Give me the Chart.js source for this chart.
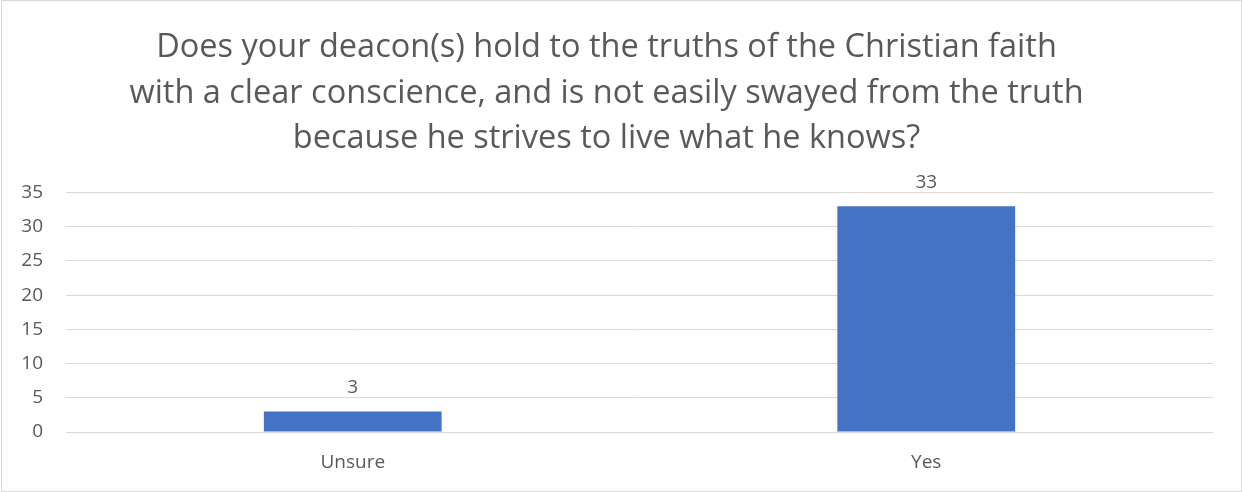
<!DOCTYPE html>
<html>
<head>
<meta charset="utf-8">
<script src="https://cdn.jsdelivr.net/npm/chart.js@4"></script>
<style>
  html, body { margin: 0; padding: 0; background: #ffffff; }
  #wrap { width: 1242px; height: 492px; position: relative; }
</style>
</head>
<body>
<div id="wrap"><canvas id="chart" width="1242" height="492"></canvas></div>
<script>
const categories = ['Unsure', 'Yes'];
const responses = [3, 33];
const titleLines = [
    'Does your deacon(s) hold to the truths of the Christian faith',
    'with a clear conscience, and is not easily swayed from the truth',
    'because he strives to live what he knows?'
];

const textColor = '#595959';
const fontFamily = '"Open Sans", "Noto Sans", sans-serif';

// value labels above bars
const barLabels = {
    id: 'barLabels',
    afterDatasetsDraw(chart) {
        const ctx = chart.ctx;
        const meta = chart.getDatasetMeta(0);
        ctx.save();
        ctx.font = '19px ' + fontFamily;
        ctx.fillStyle = textColor;
        ctx.textAlign = 'center';
        ctx.textBaseline = 'middle';
        meta.data.forEach((bar, i) => {
            ctx.fillText(String(responses[i]), bar.x, bar.y - 24);
        });
        ctx.restore();
    }
};

// light frame round the whole chart
const frame = {
    id: 'frame',
    beforeDraw(chart) {
        const ctx = chart.ctx;
        ctx.save();
        ctx.strokeStyle = '#d9d9d9';
        ctx.lineWidth = 1;
        ctx.strokeRect(1.5, 0.5, chart.width - 2, chart.height - 1);
        ctx.restore();
    }
};

const ctx = document.getElementById('chart').getContext('2d');
new Chart(ctx, {
    type: 'bar',
    data: {
        labels: categories,
        datasets: [{
            data: responses,
            backgroundColor: '#4472c4',
            borderWidth: 0,
            categoryPercentage: 1,
            barPercentage: 0.31
        }]
    },
    options: {
        responsive: false,
        animation: false,
        layout: { padding: { left: 0, right: 29, top: 25, bottom: 12 } },
        plugins: {
            legend: { display: false },
            tooltip: { enabled: false },
            title: {
                display: true,
                text: titleLines,
                color: textColor,
                font: { family: fontFamily, size: 32.5, weight: 'normal', lineHeight: 1.4 },
                padding: { top: 0, bottom: 31 }
            }
        },
        scales: {
            x: {
                grid: { display: false },
                border: { display: false },
                ticks: { color: textColor, font: { family: fontFamily, size: 19 }, padding: 11 },
                afterFit(scale) { scale.height = 48; }
            },
            y: {
                min: 0,
                max: 35,
                ticks: { stepSize: 5, color: textColor, font: { family: fontFamily, size: 19 }, padding: 23 },
                grid: { color: '#d9d9d9', lineWidth: 1, drawTicks: false },
                border: { display: false },
                afterFit(scale) { scale.width = 66; }
            }
        }
    },
    plugins: [barLabels, frame]
});
</script>
</body>
</html>
